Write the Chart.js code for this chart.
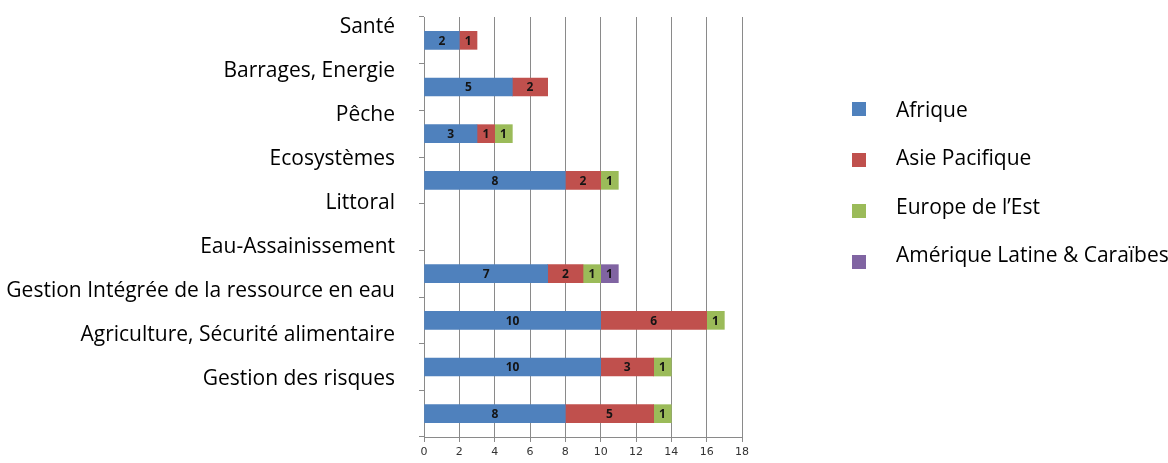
<!DOCTYPE html>
<html>
<head>
<meta charset="utf-8">
<script src="https://cdn.jsdelivr.net/npm/chart.js@4/dist/chart.umd.min.js"></script>
<style>
    html, body { margin: 0; padding: 0; background: #fff; }
    #wrap { width: 1168px; height: 463px; }
</style>
</head>
<body>
<div id="wrap"><canvas id="projets-chart"></canvas></div>
<script>
'use strict';

// chart values
const categories = [
    'Santé',
    'Barrages, Energie',
    'Pêche',
    'Ecosystèmes',
    'Littoral',
    'Eau-Assainissement',
    'Gestion Intégrée de la ressource en eau',
    'Agriculture, Sécurité alimentaire',
    'Gestion des risques'
];
const afrique  = [2, 5, 3, 8, null, 7, 10, 10, 8];
const asie     = [1, 2, 1, 2, null, 2, 6, 3, 5];
const europe   = [null, null, 1, 1, null, 1, 1, 1, 1];
const amerique = [null, null, null, null, null, 1, null, null, null];

const seriesNames  = ['Afrique', 'Asie Pacifique', 'Europe de l\u2019Est', 'Amérique Latine & Caraïbes'];
const seriesColors = ['#4F81BD', '#C0504D', '#9BBB59', '#8064A2'];
const xMax = 18;
const xStep = 2;

const GRID = '#8a8a8a';

// number in the middle of every segment
const segmentLabels = {
    id: 'segmentLabels',
    afterDatasetsDraw(chart) {
        const ctx = chart.ctx;
        ctx.save();
        ctx.font = 'bold 12px "Open Sans"';
        ctx.fillStyle = '#141414';
        ctx.textAlign = 'center';
        ctx.textBaseline = 'middle';
        chart.data.datasets.forEach((ds, i) => {
            chart.getDatasetMeta(i).data.forEach((bar, j) => {
                const v = ds.data[j];
                if (!v)
                    return;
                ctx.fillText(String(v), (bar.x + bar.base) / 2, bar.y + 1);
            });
        });
        ctx.restore();
    }
};

// legend on the right, excel style (box far from text)
const sideLegend = {
    id: 'sideLegend',
    afterDraw(chart) {
        const ctx = chart.ctx;
        ctx.save();
        ctx.font = '21px "Open Sans"';
        ctx.textBaseline = 'middle';
        ctx.textAlign = 'left';
        chart.data.datasets.forEach((ds, i) => {
            const boxY = 109 + i * 51;
            const textY = 111 + i * 48.5;
            ctx.fillStyle = ds.backgroundColor;
            ctx.fillRect(852, boxY - 7, 14, 14);
            ctx.fillStyle = '#000';
            ctx.fillText(ds.label, 896, textY);
        });
        ctx.restore();
    }
};

// todo: labels padding makes the layout jump, drop it
function noLabelPadding(s) {
    s.paddingTop = 0;
    s.paddingBottom = 0;
    s.paddingLeft = 0;
    s.paddingRight = 0;
}

const seriesData = [afrique, asie, europe, amerique];

let ctx = document.getElementById('projets-chart').getContext('2d');

new Chart(ctx, {
    type: 'bar',
    data: {
        labels: categories,
        datasets: seriesData.map((d, i) => ({
            label: seriesNames[i],
            data: d,
            backgroundColor: seriesColors[i],
            borderWidth: 0,
            barThickness: 18,
            xAxisID: 'x',
            yAxisID: 'y'
        }))
    },
    options: {
        indexAxis: 'y',
        responsive: true,
        maintainAspectRatio: false,
        animation: false,
        layout: { padding: { top: 17, right: 426, left: 0, bottom: 0 } },
        plugins: {
            legend: { display: false },
            tooltip: { enabled: false }
        },
        scales: {
            x: {
                type: 'linear',
                position: 'bottom',
                stacked: true,
                min: 0,
                max: xMax,
                ticks: {
                    stepSize: xStep,
                    font: { family: '"DejaVu Sans"', size: 11 },
                    color: '#333',
                    padding: 4
                },
                grid: { color: GRID, tickLength: 5 },
                border: { color: GRID },
                afterFit: s => { s.height = 26; noLabelPadding(s); }
            },
            y: {
                type: 'category',
                position: 'left',
                stacked: true,
                weight: 0,
                offset: true,
                ticks: { display: false },
                grid: { drawOnChartArea: false, tickLength: 5, color: GRID, offset: true },
                border: { color: GRID },
                afterFit: noLabelPadding
            },
            // the category names sit on their own scale, like the original
            names: {
                type: 'linear',
                position: 'left',
                weight: 1,
                reverse: true,
                offset: false,
                min: -10 / 44,
                max: -10 / 44 + 420 / 44,
                grid: { display: false },
                border: { display: false },
                ticks: {
                    font: { family: '"Open Sans"', size: 21 },
                    color: '#000',
                    padding: 16,
                    callback: v => categories[v]
                },
                afterBuildTicks: s => { s.ticks = categories.map((c, i) => ({ value: i })); },
                afterFit: s => { s.width = 419; noLabelPadding(s); }
            }
        }
    },
    plugins: [segmentLabels, sideLegend]
});
</script>
</body>
</html>
